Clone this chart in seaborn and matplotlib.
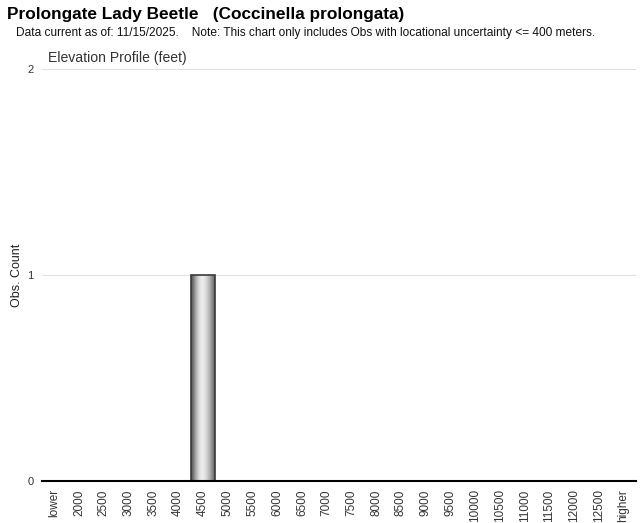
import numpy as np
import pandas as pd
import matplotlib
matplotlib.use('Agg')
import matplotlib.pyplot as plt
import seaborn as sns

# elevation bins (feet) and observation counts
bins = ['lower', '2000', '2500', '3000', '3500', '4000', '4500', '5000', '5500',
        '6000', '6500', '7000', '7500', '8000', '8500', '9000', '9500', '10000',
        '10500', '11000', '11500', '12000', '12500', 'higher']
counts = [0, 0, 0, 0, 0, 0, 1, 0, 0, 0, 0, 0, 0, 0, 0, 0, 0, 0, 0, 0, 0, 0, 0, 0]
y_ticks = [0, 1, 2]

title = 'Prolongate Lady Beetle   (Coccinella prolongata)'
subtitle = 'Data current as of: 11/15/2025.    Note: This chart only includes Obs with locational uncertainty <= 400 meters.'

sns.set_style('white')
plt.rcParams['font.family'] = ['Liberation Sans', 'DejaVu Sans']

df = pd.DataFrame({'bin': bins, 'count': counts})

fig = plt.figure(figsize=(6.4, 5.23), dpi=100)
ax = fig.add_axes([42 / 640, 1 - 481 / 523, 594 / 640, 412 / 523])

sns.barplot(data=df, x='bin', y='count', order=bins, color='#999999',
            width=0.95, ax=ax, zorder=3)

# cylinder-like grey shading on each bar
shade = np.array([0.3, 0.5, 0.7, 0.85, 0.93, 0.9, 0.82, 0.7, 0.55, 0.38])
grad = np.interp(np.linspace(0, 1, 64), np.linspace(0, 1, len(shade)), shade)
for p in ax.patches:
    h = p.get_height()
    if h <= 0:
        p.set_visible(False)
        continue
    x0, w = p.get_x(), p.get_width()
    im = ax.imshow(grad[np.newaxis, :], cmap='gray', vmin=0, vmax=1,
                   extent=[x0, x0 + w, 0, h], aspect='auto', zorder=4)
    im.set_clip_path(p)
    p.set_facecolor('none')
    p.set_edgecolor('#3a3a3a')
    p.set_linewidth(1.2)
    p.set_zorder(5)

ax.set_xlim(-0.5, len(bins) - 0.5)
ax.set_ylim(0, 2)
ax.set_yticks(y_ticks)
ax.set_yticklabels([str(v) for v in y_ticks], fontsize=8, color='#333333')
ax.set_xticks(range(len(bins)))
ax.set_xticklabels(bins, rotation=90, fontsize=8.5, color='#333333')
ax.tick_params(axis='x', length=4, width=0.8, color='#333333', pad=2)
ax.tick_params(axis='y', length=5, width=0.8, color='#cccccc', pad=1)
ax.yaxis.grid(True, color='#e0e0e0', linewidth=0.8, zorder=0)
ax.set_axisbelow(True)

for side in ['top', 'right', 'left']:
    ax.spines[side].set_visible(False)
ax.spines['bottom'].set_color('#000000')
ax.spines['bottom'].set_linewidth(1.5)
ax.spines['bottom'].set_zorder(6)

ax.set_xlabel('')
ax.set_ylabel('Obs. Count', fontsize=9, color='#222222')
ax.yaxis.set_label_coords((23 - 42) / 594, 0.5)

fig.text(7 / 640, 1 - 15 / 523, title, fontsize=12.4, fontweight='bold',
         va='center', ha='left', color='#000000')
fig.text(16 / 640, 1 - 33 / 523, subtitle, fontsize=8.6, va='center', ha='left',
         color='#111111')
fig.text(48 / 640, 1 - 58 / 523, 'Elevation Profile (feet)', fontsize=10.1,
         va='center', ha='left', color='#333333')

fig.savefig('out.png', dpi=100)
